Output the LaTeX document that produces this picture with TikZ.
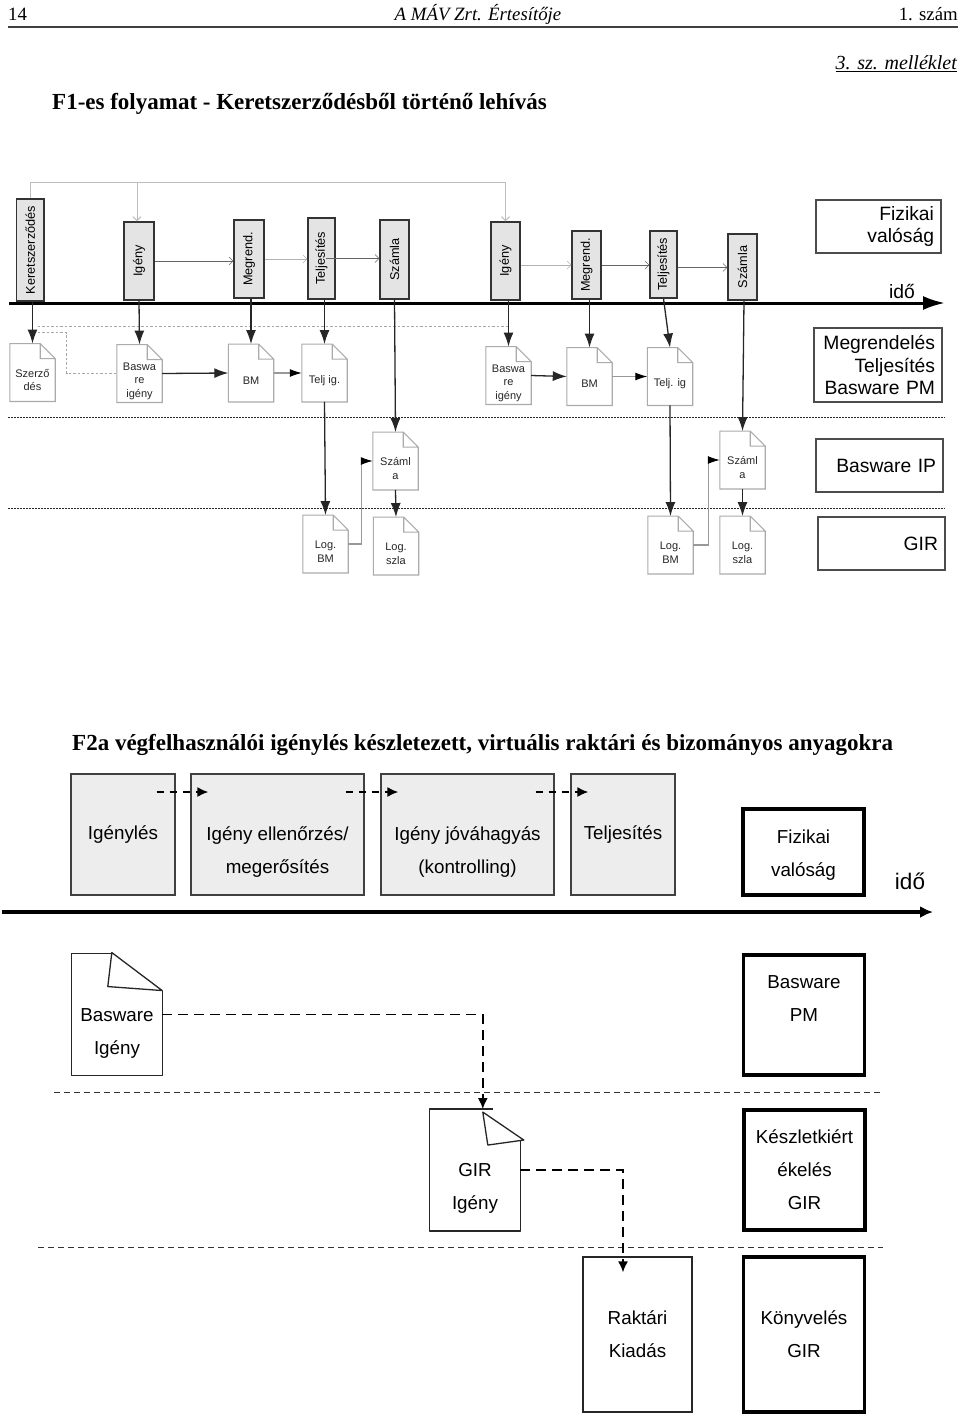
\documentclass[tikz,border=0pt]{standalone}
\usepackage{fontspec}
\usepackage{graphicx}
\setmainfont{Liberation Sans}
\newfontfamily\headfont{Liberation Serif}
\usetikzlibrary{positioning,arrows.meta}
\definecolor{barfill}{HTML}{E4E4E4}
\definecolor{stagefill}{HTML}{EDEDED}
\definecolor{docgray}{HTML}{ABABAB}
\definecolor{fbgray}{HTML}{BDBDBD}
\begin{document}
\begin{tikzpicture}[x=1pt,y=-1pt]
\useasboundingbox (0,0) rectangle (960,1416);
\tikzstyle{pagetext}=[inner sep=0pt,font=\headfont\fontsize{18.8}{22}\selectfont]
\tikzstyle{capline}=[inner sep=0pt,font=\headfont\bfseries\fontsize{23}{27}\selectfont]
\tikzstyle{bar}=[rectangle,draw=black!80,fill=barfill,line width=1.2pt,inner sep=0pt,font=\fontsize{12.7}{15}\selectfont]
\tikzstyle{docnode}=[rectangle,inner sep=0pt,minimum width=45pt,minimum height=57.5pt,align=center,text=black!85,font=\fontsize{11}{13.5}\selectfont]
\tikzstyle{legendbox}=[rectangle,draw=black!70,line width=1.1pt,inner xsep=7pt,inner ysep=0pt,align=right,font=\fontsize{19.3}{22.7}\selectfont]
\tikzstyle{stage}=[rectangle,draw=black!75,fill=stagefill,line width=1.3pt,inner sep=0pt,minimum height=121pt,align=center,font=\fontsize{18.8}{33.5}\selectfont]
\tikzstyle{lane}=[rectangle,draw=black,line width=3.6pt,inner sep=0pt,minimum width=121pt,align=center,font=\fontsize{18.8}{33}\selectfont]
\tikzstyle{pagedoc}=[rectangle,inner sep=0pt,minimum width=90pt,minimum height=121.5pt,align=center,font=\fontsize{18.8}{33}\selectfont]
\tikzstyle{docline}=[draw=docgray,line width=1.1pt]
\tikzstyle{bigarrow}=[draw=black!85,line width=1.3pt,-{Latex[length=14pt,width=10pt]}]
\tikzstyle{grayarrow}=[draw=black!40,line width=1.1pt,-{Latex[length=12pt,width=8pt,color=black]}]
\tikzstyle{thinarrow}=[draw=black!60,line width=.6pt,-{Straight Barb[length=4pt,width=8pt]}]
\tikzstyle{fbarrow}=[draw=fbgray,line width=1pt,-{Straight Barb[length=4pt,width=8pt]}]
\tikzstyle{graydash}=[draw=black!35,line width=.8pt,dash pattern=on 2.5pt off 2pt]
\tikzstyle{rowdots}=[draw=black!85,line width=1pt,dash pattern=on 2pt off 1pt]
\tikzstyle{rowdash}=[draw=black!80,line width=1pt,dash pattern=on 6pt off 4pt]
\tikzstyle{flowdash}=[draw=black,line width=1.7pt,dash pattern=on 10pt off 6pt,-{Latex[length=11pt,width=10pt]}]
\tikzstyle{foldline}=[draw=black!85,fill=white,line width=1.3pt,line join=round]
% page head
    \node[pagetext,anchor=west] (pgno) at (8,14) {14};
    \node[pagetext] (pgjr) at (478,14) {\itshape A MÁV Zrt. Értesítője};
    \node[pagetext,anchor=east] (pgis) at (958,14) {1. szám};
    \draw[black!75,line width=1.4pt] (8,27) -- (958,27);
    \node[pagetext,anchor=east,font=\headfont\fontsize{20}{24}\selectfont] (annex) at (957,64) {\itshape\underline{3. sz. melléklet}};
    \node[capline,anchor=west] (capa) at (52,104) {F1-es folyamat - Keretszerződésből történő lehívás};
% upper chart, bars above the time line
    \node[bar,minimum width=27.5pt,minimum height=102pt] (ker) at (30.25,250) {\rotatebox{90}{Keretszerződés}};
    \node[bar,minimum width=30pt,minimum height=78pt] (ig1) at (139,261) {\rotatebox{90}{Igény}};
    \node[bar,minimum width=30pt,minimum height=78pt] (meg1) at (249,259) {\rotatebox{90}{Megrend.}};
    \node[bar,minimum width=27pt,minimum height=81pt] (tel1) at (321.5,258.5) {\rotatebox{90}{Teljesítés}};
    \node[bar,minimum width=29pt,minimum height=79pt] (szl1) at (394.5,259.5) {\rotatebox{90}{Számla}};
    \node[bar,minimum width=29pt,minimum height=78pt] (ig2) at (505.5,261) {\rotatebox{90}{Igény}};
    \node[bar,minimum width=29pt,minimum height=68pt] (meg2) at (586.5,265) {\rotatebox{90}{Megrend.}};
    \node[bar,minimum width=27pt,minimum height=67pt] (tel2) at (663.5,264.5) {\rotatebox{90}{Teljesítés}};
    \node[bar,minimum width=29pt,minimum height=66pt] (szl2) at (742.5,267) {\rotatebox{90}{Számla}};
    \node[legendbox,text width=111pt,minimum height=53pt] (lgf) at (878.5,226.5) {Fizikai\\valóság};
    \node[legendbox,text width=114pt,minimum height=74pt] (lgm) at (878,365) {Megrendelés\\Teljesítés\\Basware PM};
    \node[legendbox,text width=113pt,minimum height=53pt] (lgb) at (879.5,465.5) {Basware IP};
    \node[legendbox,text width=113pt,minimum height=53pt] (lgg) at (881.5,543.5) {GIR};
    \node[inner sep=0pt,font=\fontsize{19.3}{22}\selectfont] (ido1) at (902,291) {idő};
% documents
    \node[docnode] (sze) at (32.5,372.5) {\strut\\Szerző\\dés};
    \node[docnode] (bs1) at (139.5,373.5) {\strut\\Baswa\\re\\igény};
    \node[docnode] (bm1) at (251,373) {\strut\\BM};
    \node[docnode] (tj1) at (324.5,373) {\strut\\Telj ig.};
    \node[docnode] (bs2) at (508.5,375.5) {\strut\\Baswa\\re\\igény};
    \node[docnode] (bm2) at (589.5,376.5) {\strut\\BM};
    \node[docnode] (tj2) at (670,376.5) {\strut\\Telj. ig};
    \node[docnode] (szd1) at (395.5,461) {\strut\\Száml\\a};
    \node[docnode] (szd2) at (742.5,460) {\strut\\Száml\\a};
    \node[docnode] (lb1) at (325.5,544) {\strut\\Log.\\BM};
    \node[docnode] (ls1) at (396,546) {\strut\\Log.\\szla};
    \node[docnode] (lb2) at (670.5,545) {\strut\\Log.\\BM};
    \node[docnode] (ls2) at (742.5,545) {\strut\\Log.\\szla};
    \foreach \d in {sze,bs1,bm1,tj1,bs2,bm2,tj2,szd1,szd2,lb1,ls1,lb2,ls2}
        \draw[docline] (\d.north west) -- ([xshift=-15pt]\d.north east) -- ([yshift=-15pt]\d.north east) -- (\d.south east) -- (\d.south west) -- cycle
            ([xshift=-15pt]\d.north east) |- ([yshift=-15pt]\d.north east);
% row separators
    \coordinate (dotaw) at (8,417);
    \coordinate (dotae) at (945,417);
    \coordinate (dotbw) at (8,508);
    \coordinate (dotbe) at (945,508);
    \draw[rowdots] (dotaw) -- (dotae);
    \draw[rowdots] (dotbw) -- (dotbe);
% feedback lines
    \coordinate (fbt) at (137,183);
    \draw[fbarrow] (ker.north) -- ++(0,-16) -| (ig2.north);
    \draw[fbarrow] (fbt) -- ([xshift=-2pt]ig1.north);
    \draw[graydash] ([xshift=5pt,yshift=11pt]sze.north) -- ++(29,0) |- (bs1.west);
    \draw[graydash] ([xshift=5pt,yshift=17pt]sze.north) -- ([yshift=17pt]sze.north -| bs2.north);
% bar to bar
    \draw[thinarrow] (ig1.east) -- (ig1.east -| meg1.west);
    \draw[thinarrow,draw=black!30] (meg1.east) -- (meg1.east -| tel1.west);
    \draw[thinarrow] ([xshift=-10pt]tel1.east) -- (tel1.east -| szl1.west);
    \draw[thinarrow,draw=black!30] (meg2.west -| ig2.east) -- (meg2.west);
    \draw[thinarrow] (meg2.east) -- (meg2.east -| tel2.west);
    \draw[thinarrow] ([yshift=-3pt]tel2.east) -- ([yshift=-3pt]tel2.east -| szl2.west);
% time line
    \coordinate (ta) at (9,303);
    \coordinate (tb) at (945,303);
    \draw[line width=3pt,-{Latex[length=22pt,width=14pt]}] (ta) -- (tb);
% bar to document
    \draw[bigarrow] (ker.south -| sze.north) -- (sze.north);
    \draw[bigarrow] (ig1.south) -- (bs1.north);
    \draw[bigarrow] (meg1.south -| bm1.north) -- (bm1.north);
    \draw[bigarrow] (tel1.south -| tj1.north) -- (tj1.north);
    \draw[bigarrow] (ig2.south -| bs2.north) -- (bs2.north);
    \draw[bigarrow] (meg2.south -| bm2.north) -- (bm2.north);
    \draw[bigarrow] (tel2.south) -- (tj2.north);
    \draw[bigarrow] (szl1.south) -- (szd1.north);
    \draw[bigarrow] ([xshift=1.5pt]szl2.south) -- (szd2.north);
    \draw[bigarrow] (bs1.east) -- (bm1.west);
    \draw[grayarrow] (bm1.east) -- (tj1.west);
    \draw[bigarrow] (bs2.east) -- (bm2.west);
    \draw[grayarrow] (bm2.east) -- (tj2.west);
    \draw[bigarrow] (tj1.south) -- (lb1.north);
    \draw[bigarrow] (tj2.south) -- (lb2.north);
    \draw[bigarrow] (szd1.south) -- (ls1.north);
    \draw[bigarrow] (szd2.south) -- (ls2.north);
    \draw[grayarrow] (lb1.east) -- ++(13,0) |- (szd1.west);
    \draw[grayarrow] (lb2.east) -- ++(15,0) |- (szd2.west);
% lower chart
    \node[capline,anchor=west] (capb) at (72,745) {F2a végfelhasználói igénylés készletezett, virtuális raktári és bizományos anyagokra};
    \node[stage,minimum width=104pt] (igl) at (123,834.5) {Igénylés};
    \node[stage,minimum width=173pt] (ell) at (277.5,834.5) {\strut\\[-8.5pt]Igény ellenőrzés/\\megerősítés};
    \node[stage,minimum width=173pt] (jov) at (467.5,834.5) {\strut\\[-8.5pt]Igény jóváhagyás\\(kontrolling)};
    \node[stage,minimum width=104pt] (tlj) at (623,834.5) {Teljesítés};
    \foreach \a/\b in {igl/ell,ell/jov,jov/tlj}
        \draw[flowdash,dash pattern=on 7pt off 6pt] ([xshift=-19pt,yshift=42.5pt]\a.east) -- ([xshift=18pt,yshift=42.5pt]\b.west);
    \node[lane,minimum height=86pt] (fiz) at (803.5,852) {\rule{0pt}{19pt}Fizikai\\valóság};
    \node[inner sep=0pt,font=\fontsize{22.5}{26}\selectfont] (ido2) at (910,881) {idő};
    \coordinate (tc) at (2,912);
    \coordinate (td) at (933,912);
    \draw[line width=4pt,-{Latex[length=13pt,width=12pt]}] (tc) -- (td);
    \node[pagedoc] (bwi) at (117,1014.5) {\strut\\[-6pt]Basware\\Igény};
    \draw[foldline,fill=none] ([xshift=40pt]bwi.north west) -- (bwi.north west) -- (bwi.south west) -- (bwi.south east) -- ([yshift=-37pt]bwi.north east);
    \draw[foldline] ([xshift=40pt,yshift=1pt]bwi.north west) -- ([xshift=36pt,yshift=-33pt]bwi.north west) -- ([yshift=-37pt]bwi.north east) -- cycle;
    \node[lane,minimum height=120pt] (bpm) at (804,1015) {Basware\\PM\\\mbox{}};
    \node[pagedoc] (gig) at (475,1170) {\strut\\[-6pt]GIR\\Igény};
    \draw[foldline,fill=none] ([xshift=63pt]gig.north west) -- (gig.north west) -- (gig.south west) -- (gig.south east) -- ([yshift=-31pt]gig.north east);
    \draw[foldline] ([xshift=53pt,yshift=-3pt]gig.north west) -- ([xshift=58pt,yshift=-36pt]gig.north west) -- ([xshift=94pt,yshift=-31pt]gig.north west) -- cycle;
    \node[lane,minimum height=120pt] (kkg) at (804.5,1170) {Készletkiért\\ékelés\\GIR};
    \node[rectangle,draw=black!85,line width=1.3pt,inner sep=0pt,minimum width=109pt,minimum height=155pt,align=center,font=\fontsize{18.8}{33}\selectfont] (rkt) at (637.5,1334.5) {Raktári\\Kiadás};
    \node[lane,minimum height=155pt] (kny) at (804,1334.5) {Könyvelés\\GIR};
    \coordinate (dasha) at (54,1092);
    \coordinate (dashb) at (882,1092);
    \coordinate (dashc) at (38,1247);
    \coordinate (dashd) at (883,1247);
    \draw[rowdash] (dasha) -- (dashb);
    \draw[rowdash] (dashc) -- (dashd);
    \draw[flowdash] (bwi.east) -| ([xshift=53pt]gig.north west);
    \draw[flowdash] (gig.east) -| ([xshift=-14.5pt,yshift=-16pt]rkt.north);
\end{tikzpicture}
\end{document}
